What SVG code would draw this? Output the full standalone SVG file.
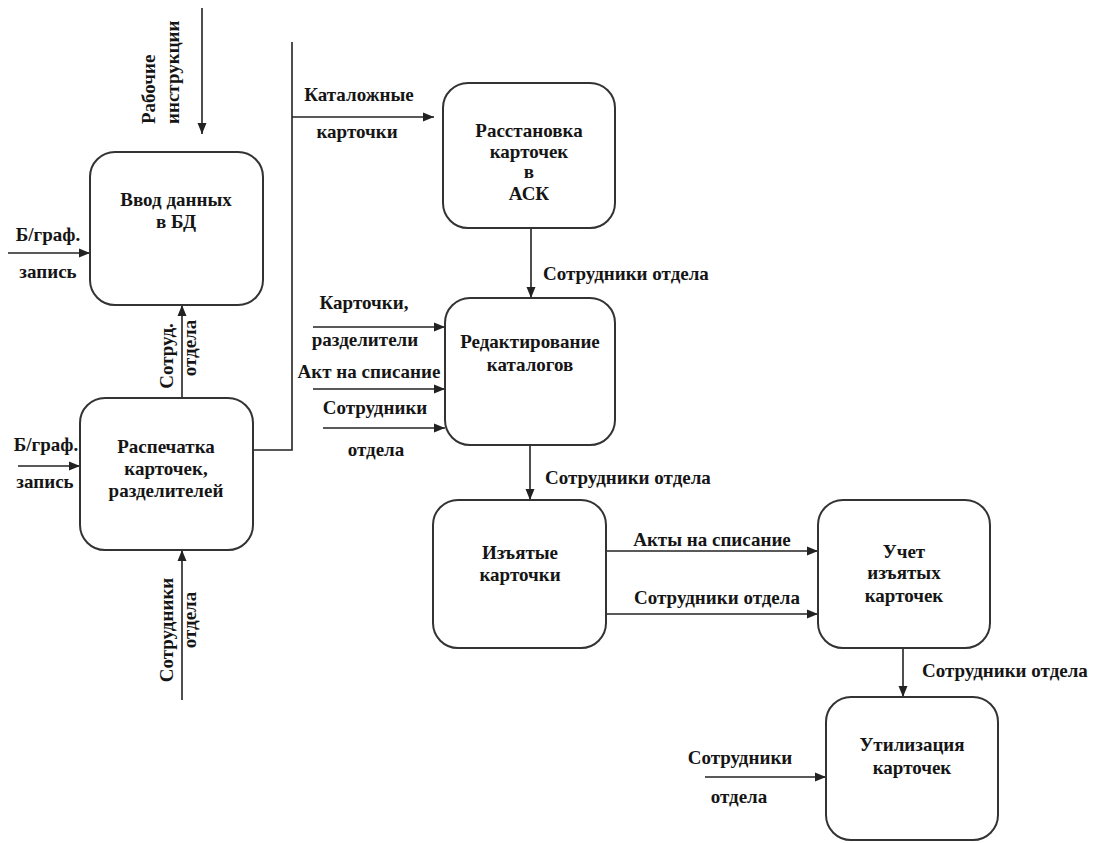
<svg xmlns="http://www.w3.org/2000/svg" width="1100" height="843" viewBox="0 0 1100 843">
<style>
.box{fill:#fff;stroke:#333;stroke-width:2}
.ln{fill:none;stroke:#222;stroke-width:1.6}
.ar{fill:none;stroke:#222;stroke-width:1.6;marker-end:url(#ah)}
text{font-family:"Liberation Serif","Times New Roman",serif;font-weight:bold;font-size:19px;fill:#151515}
.c{text-anchor:middle}
</style>
<defs>
<marker id="ah" markerUnits="userSpaceOnUse" markerWidth="12" markerHeight="10" refX="11" refY="5" orient="auto">
<path d="M0,0.5 L11,5 L0,9.5 z" fill="#222"/>
</marker>
</defs>
<rect width="1100" height="843" fill="#fff"/>

<g id="connectors">
<line class="ar" x1="202" y1="8" x2="202" y2="134"/>
<line class="ar" x1="8" y1="253" x2="90" y2="253"/>
<line class="ar" x1="182" y1="398" x2="182" y2="305"/>
<line class="ar" x1="18" y1="466" x2="80" y2="466"/>
<line class="ar" x1="182" y1="700" x2="182" y2="550"/>
<polyline class="ln" points="253,450 292,450 292,42"/>
<line class="ar" x1="292" y1="117" x2="434" y2="117"/>
<line class="ar" x1="531" y1="228" x2="531" y2="298"/>
<line class="ar" x1="313" y1="327" x2="445" y2="327"/>
<line class="ar" x1="313" y1="389" x2="445" y2="389"/>
<line class="ar" x1="323" y1="428" x2="445" y2="428"/>
<line class="ar" x1="530" y1="445" x2="530" y2="500"/>
<line class="ar" x1="606" y1="551" x2="818" y2="551"/>
<line class="ar" x1="606" y1="614" x2="818" y2="614"/>
<line class="ar" x1="903" y1="648" x2="903" y2="697"/>
<line class="ar" x1="705" y1="777" x2="826" y2="777"/>
</g>

<g id="labels">
<text transform="translate(155,124) rotate(-90)">Рабочие</text>
<text transform="translate(179,124) rotate(-90)">инструкции</text>
<text class="c" x="48" y="241">Б/граф.</text>
<text class="c" x="48" y="278">запись</text>
<text class="c" transform="translate(173,356) rotate(-90)">Сотруд.</text>
<text class="c" transform="translate(196,348) rotate(-90)">отдела</text>
<text class="c" x="46" y="451">Б/граф.</text>
<text class="c" x="45" y="488">запись</text>
<text class="c" transform="translate(173,630) rotate(-90)">Сотрудники</text>
<text class="c" transform="translate(196,620) rotate(-90)">отдела</text>
<text class="c" x="359" y="101">Каталожные</text>
<text class="c" x="357" y="138">карточки</text>
<text x="543" y="280">Сотрудники отдела</text>
<text class="c" x="364" y="309">Карточки,</text>
<text class="c" x="365" y="346">разделители</text>
<text class="c" x="369" y="378">Акт на списание</text>
<text class="c" x="375" y="414">Сотрудники</text>
<text class="c" x="376" y="456">отдела</text>
<text x="545" y="484">Сотрудники отдела</text>
<text class="c" x="712" y="546">Акты на списание</text>
<text class="c" x="717" y="604">Сотрудники отдела</text>
<text x="922" y="677">Сотрудники отдела</text>
<text class="c" x="740" y="764">Сотрудники</text>
<text class="c" x="739" y="803">отдела</text>
</g>

<g id="n1">
<rect class="box" x="90" y="152" width="173" height="153" rx="25"/>
<text class="c" x="176" y="206">Ввод данных</text>
<text class="c" x="176" y="228">в БД</text>
</g>
<g id="n2">
<rect class="box" x="80" y="398" width="173" height="152" rx="25"/>
<text class="c" x="166" y="453">Распечатка</text>
<text class="c" x="166" y="475">карточек,</text>
<text class="c" x="166" y="497">разделителей</text>
</g>
<g id="n3">
<rect class="box" x="443" y="83" width="172" height="145" rx="25"/>
<text class="c" x="529" y="137">Расстановка</text>
<text class="c" x="529" y="158">карточек</text>
<text class="c" x="529" y="178">в</text>
<text class="c" x="529" y="200">АСК</text>
</g>
<g id="n4">
<rect class="box" x="445" y="298" width="170" height="147" rx="25"/>
<text class="c" x="530" y="348">Редактирование</text>
<text class="c" x="530" y="371">каталогов</text>
</g>
<g id="n5">
<rect class="box" x="433" y="500" width="173" height="148" rx="25"/>
<text class="c" x="520" y="559">Изъятые</text>
<text class="c" x="520" y="581">карточки</text>
</g>
<g id="n6">
<rect class="box" x="818" y="500" width="172" height="148" rx="25"/>
<text class="c" x="904" y="558">Учет</text>
<text class="c" x="904" y="579">изъятых</text>
<text class="c" x="904" y="602">карточек</text>
</g>
<g id="n7">
<rect class="box" x="826" y="697" width="172" height="143" rx="25"/>
<text class="c" x="912" y="751">Утилизация</text>
<text class="c" x="912" y="774">карточек</text>
</g>
</svg>
